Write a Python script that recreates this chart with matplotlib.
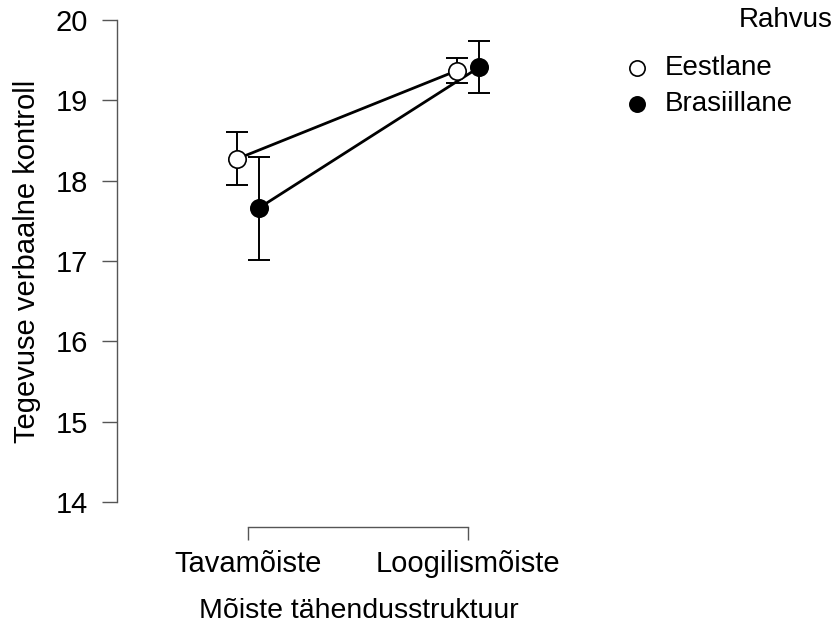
import matplotlib
matplotlib.use("Agg")
import matplotlib.pyplot as plt
from matplotlib.lines import Line2D

plt.rcParams['font.family'] = ['Liberation Sans', 'DejaVu Sans']

categories = ["Tavamõiste", "Loogilismõiste"]
groups = ["Eestlane", "Brasiillane"]
means = {
    "Eestlane": [18.27, 19.37],
    "Brasiillane": [17.66, 19.41],
}
lower = {
    "Eestlane": [17.95, 19.22],
    "Brasiillane": [17.01, 19.09],
}
upper = {
    "Eestlane": [18.61, 19.53],
    "Brasiillane": [18.29, 19.74],
}
yticks = [14, 15, 16, 17, 18, 19, 20]
facecolors = {"Eestlane": "white", "Brasiillane": "black"}
offsets = {"Eestlane": -0.05, "Brasiillane": 0.05}

W, H = 836, 630
fig = plt.figure(figsize=(W / 100, H / 100), dpi=100)
ax = fig.add_axes([117 / W, 1 - 502 / H, 483 / W, 482 / H])

xs = list(range(len(categories)))
for g in groups:
    gx = [x + offsets[g] for x in xs]
    m = means[g]
    yerr = [[mi - lo for mi, lo in zip(m, lower[g])], [up - mi for mi, up in zip(m, upper[g])]]
    ax.plot(gx, m, color="black", lw=2, zorder=2)
    ax.errorbar(gx, m, yerr=yerr, fmt="none", ecolor="black", elinewidth=1.4,
                capsize=8, capthick=1.4, zorder=3)
    ax.plot(gx, m, "o", ms=12.5, mfc=facecolors[g], mec="black", mew=1.2,
            ls="none", zorder=4)

ax.set_xlim(-0.595, 1.6)
ax.set_ylim(14, 20)
ax.set_yticks(yticks)
ax.set_yticklabels([str(t) for t in yticks])
ax.set_xticks(xs)
ax.set_xticklabels(categories)

for s in ["top", "right"]:
    ax.spines[s].set_visible(False)
ax.spines["left"].set_bounds(14, 20)
ax.spines["bottom"].set_bounds(0, 1)
ax.spines["bottom"].set_position(("outward", 18))
ax.spines["left"].set_linewidth(1)
ax.spines["bottom"].set_linewidth(1)
ax.spines["left"].set_color("#555555")
ax.spines["bottom"].set_color("#555555")

ax.tick_params(axis="y", length=10.8, width=1, pad=10, labelsize=21, colors="black")
ax.tick_params(axis="x", length=9.4, width=1, pad=7, labelsize=21, colors="black")
ax.tick_params(axis="both", color="#555555")

ax.set_xlabel("Mõiste tähendusstruktuur", fontsize=20.5)
ax.xaxis.set_label_coords(0.5, (1 - 611 / H - (1 - 502 / H)) / (482 / H), transform=ax.transAxes)
ax.xaxis.label.set_va("center")
ax.set_ylabel("Tegevuse verbaalne kontroll", fontsize=21)
ax.yaxis.set_label_coords(27 / W, 1 - 261 / H, transform=fig.transFigure)
ax.yaxis.label.set_va("center")

# legend
fig.text(833 / W, 1 - 20 / H, "Rahvus", ha="right", va="center", fontsize=20)
leg_y = [68, 104]
for g, yy in zip(groups, leg_y):
    fig.add_artist(Line2D([637 / W], [1 - yy / H], marker="o", ms=11, mfc=facecolors[g],
                          mec="black", mew=1.2, ls="none", transform=fig.transFigure))
    fig.text(665 / W, 1 - yy / H, g, ha="left", va="center", fontsize=20)

fig.savefig("out.png", dpi=100)
